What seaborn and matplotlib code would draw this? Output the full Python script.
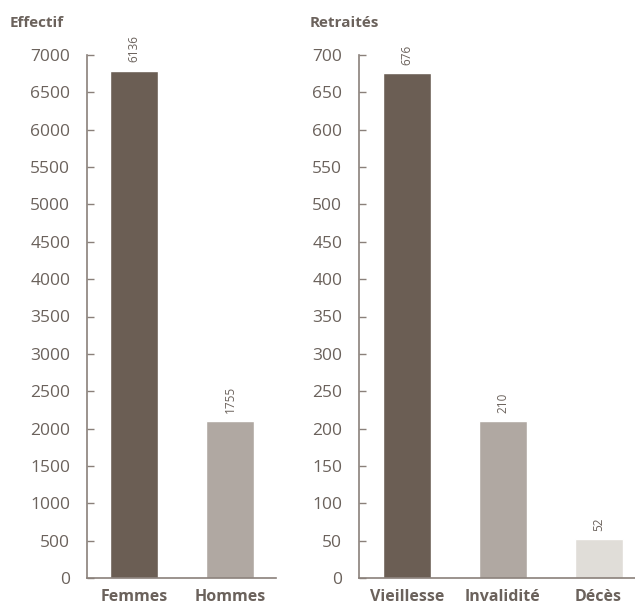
import matplotlib
matplotlib.use('Agg')
import matplotlib.pyplot as plt
import seaborn as sns
import pandas as pd

# données
effectif_cats = ['Femmes', 'Hommes']
effectif_heights = [6790, 2100]
effectif_labels = ['6136', '1755']

retraites_cats = ['Vieillesse', 'Invalidité', 'Décès']
retraites_heights = [676, 210, 52]
retraites_labels = ['676', '210', '52']

colors = ['#6b5e54', '#b0a8a2', '#e0ddd8']
text_color = '#6b625c'
axis_color = '#8a807a'

sns.set_theme(style='white')
plt.rcParams['font.family'] = ['Open Sans', 'DejaVu Sans']

fig = plt.figure(figsize=(6.35, 6.05), dpi=100)
ax1 = fig.add_axes([87 / 635, 1 - 578 / 605, (276 - 87) / 635, 523 / 605])
ax2 = fig.add_axes([359 / 635, 1 - 578 / 605, (635 - 359) / 635, 523 / 605])


def draw_panel(ax, cats, heights, labels, ymax, step, xlim, title, title_x):
    df = pd.DataFrame({'cat': cats, 'val': heights})
    sns.barplot(data=df, x='cat', y='val', hue='cat', palette=colors[:len(cats)],
                width=0.5, saturation=1, legend=False, ax=ax)
    for i, (h, lab) in enumerate(zip(heights, labels)):
        ax.annotate(lab, (i, h), xytext=(0, 6), textcoords='offset points',
                    rotation=90, ha='center', va='bottom', fontsize=8.5,
                    color=text_color)
    ax.set_xlim(*xlim)
    ax.set_ylim(0, ymax)
    ax.set_yticks(range(0, ymax + 1, step))
    ax.set_xlabel('')
    ax.set_ylabel('')
    for s in ['top', 'right']:
        ax.spines[s].set_visible(False)
    for s in ['left', 'bottom']:
        ax.spines[s].set_color(axis_color)
        ax.spines[s].set_linewidth(1.2)
    ax.tick_params(axis='y', direction='in', length=5, width=1, color=axis_color,
                   labelsize=12.5, labelcolor=text_color, pad=12, left=True)
    ax.tick_params(axis='x', length=0, labelsize=11.5, labelcolor=text_color, pad=8)
    for t in ax.get_xticklabels():
        t.set_fontweight('bold')
    ax.set_facecolor('white')
    fig.text(title_x / 635, 1 - 27 / 605, title, fontsize=11, fontweight='bold',
             color=text_color, ha='left', va='baseline')


draw_panel(ax1, effectif_cats, effectif_heights, effectif_labels, 7000, 500,
           (-0.49, 1.48), 'Effectif', 10)
draw_panel(ax2, retraites_cats, retraites_heights, retraites_labels, 700, 50,
           (-0.5, 2.38), 'Retraités', 310)

fig.savefig('out.png', dpi=100, facecolor='white')
